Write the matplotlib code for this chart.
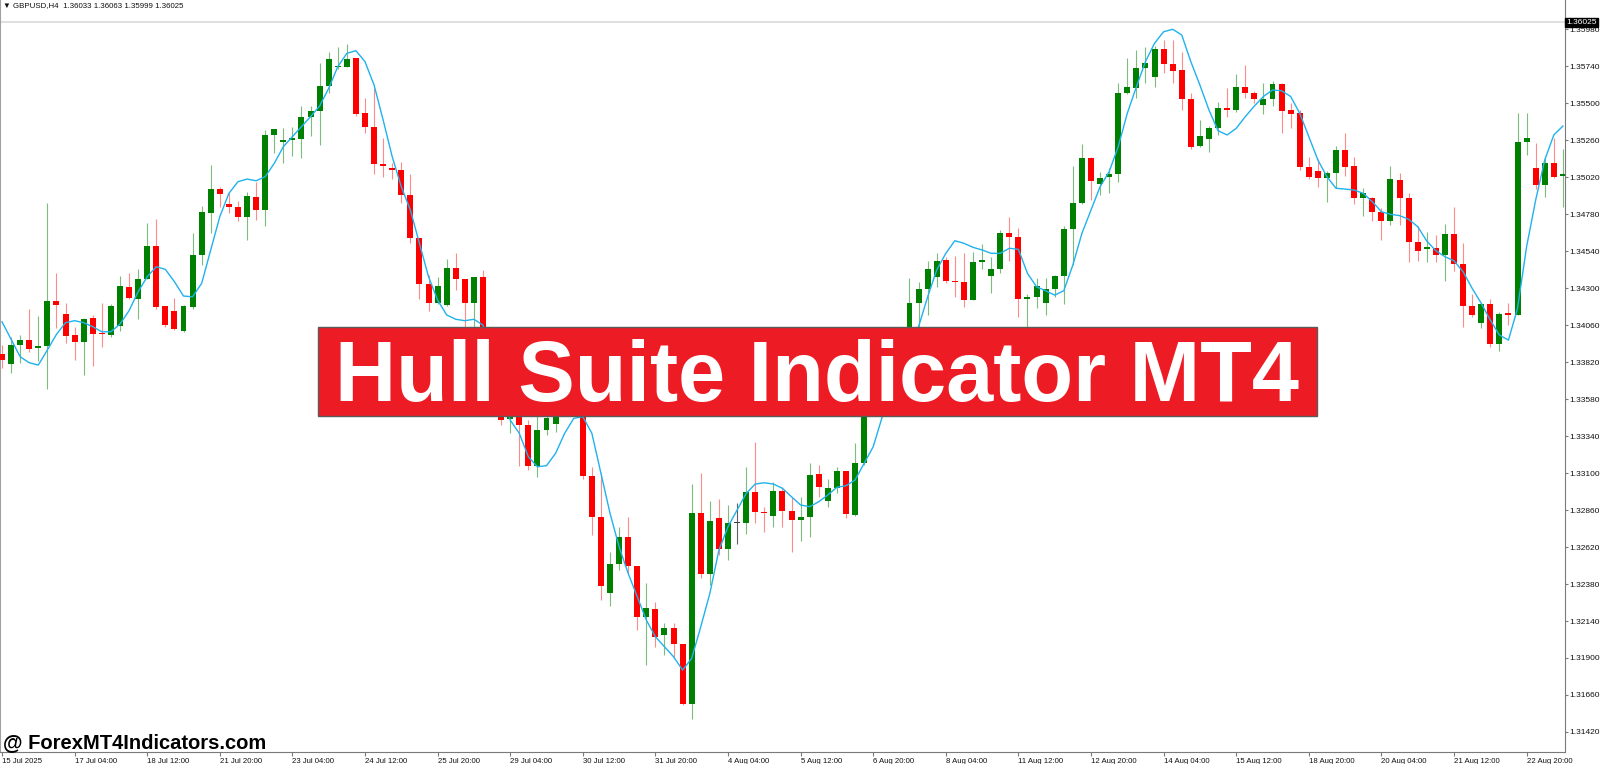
import numpy as np
import matplotlib
matplotlib.use("Agg")
import matplotlib.pyplot as plt
from matplotlib.patches import Rectangle
import matplotlib.transforms as mtransforms

plt.rcParams['font.family'] = ['Liberation Sans', 'DejaVu Sans']

# GBPUSD H4 candles
opens = [1.33873, 1.33806, 1.33933, 1.33961, 1.33910, 1.33924, 1.34217, 1.34134, 1.33996, 1.33952,
         1.34104, 1.34011, 1.33994, 1.34056, 1.34309, 1.34231, 1.34361, 1.34575, 1.34184, 1.34150,
         1.34024, 1.34178, 1.34515, 1.34790, 1.34943, 1.34844, 1.34827, 1.34764, 1.34893, 1.34807,
         1.35294, 1.35246, 1.35261, 1.35268, 1.35411, 1.35448, 1.35614, 1.35733, 1.35733, 1.35792,
         1.35435, 1.35348, 1.35106, 1.35080, 1.35067, 1.34906, 1.34623, 1.34327, 1.34202, 1.34191,
         1.34433, 1.34361, 1.34202, 1.34374, 1.33931, 1.33522, 1.33451, 1.33509, 1.33412, 1.33148,
         1.33379, 1.33416, 1.33509, 1.33587, 1.33626, 1.33083, 1.32817, 1.32319, 1.32508, 1.32683,
         1.32499, 1.32164, 1.32218, 1.32049, 1.32096, 1.31988, 1.31601, 1.32839, 1.32445, 1.32806,
         1.32607, 1.32774, 1.32774, 1.32975, 1.32849, 1.32823, 1.32985, 1.32854, 1.32795, 1.32813,
         1.33092, 1.32921, 1.33005, 1.33111, 1.32828, 1.33167, 1.33574, 1.33509, 1.33704, 1.33847,
         1.33996, 1.34205, 1.34292, 1.34374, 1.34483, 1.34348, 1.34340, 1.34223, 1.34472, 1.34381,
         1.34422, 1.34656, 1.34634, 1.34228, 1.34240, 1.34205, 1.34294, 1.34379, 1.34682, 1.34851,
         1.35147, 1.34976, 1.35019, 1.35041, 1.35564, 1.35601, 1.35727, 1.35668, 1.35852, 1.35753,
         1.35716, 1.35526, 1.35222, 1.35268, 1.35341, 1.35467, 1.35456, 1.35607, 1.35564, 1.35489,
         1.35526, 1.35623, 1.35456, 1.35435, 1.35088, 1.35060, 1.35017, 1.35045, 1.35197, 1.35093,
         1.34887, 1.34883, 1.34796, 1.34738, 1.35002, 1.34887, 1.34601, 1.34556, 1.34562, 1.34515,
         1.34651, 1.34457, 1.34184, 1.34072, 1.34197, 1.33935, 1.34137, 1.34126, 1.35246, 1.35082,
         1.34969, 1.35110, 1.35028]
highs = [1.33931, 1.33985, 1.33996, 1.34163, 1.34119, 1.34854, 1.34400, 1.34202, 1.34050, 1.34104,
         1.34126, 1.34202, 1.34197, 1.34379, 1.34400, 1.34422, 1.34721, 1.34747, 1.34184, 1.34236,
         1.34191, 1.34660, 1.34833, 1.35099, 1.34958, 1.34919, 1.34867, 1.34926, 1.34991, 1.35326,
         1.35335, 1.35341, 1.35344, 1.35482, 1.35482, 1.35759, 1.35833, 1.35863, 1.35882, 1.35792,
         1.35536, 1.35597, 1.35276, 1.35114, 1.35119, 1.35041, 1.34623, 1.34385, 1.34374, 1.34487,
         1.34526, 1.34361, 1.34374, 1.34418, 1.33963, 1.33574, 1.33561, 1.33542, 1.33444, 1.33509,
         1.33574, 1.33574, 1.33671, 1.33756, 1.33704, 1.33141, 1.33098, 1.32586, 1.32752, 1.32817,
         1.32499, 1.32388, 1.32265, 1.32129, 1.32129, 1.31988, 1.33029, 1.33098, 1.32921, 1.32930,
         1.32893, 1.32907, 1.33137, 1.33303, 1.32882, 1.33044, 1.33011, 1.32946, 1.32946, 1.33163,
         1.33152, 1.33059, 1.33137, 1.33111, 1.33293, 1.33606, 1.33639, 1.33736, 1.33899, 1.34028,
         1.34364, 1.34342, 1.34478, 1.34526, 1.34500, 1.34511, 1.34526, 1.34536, 1.34586, 1.34504,
         1.34677, 1.34764, 1.34688, 1.34262, 1.34364, 1.34364, 1.34385, 1.34703, 1.35093, 1.35233,
         1.35153, 1.35056, 1.35078, 1.35629, 1.35792, 1.35846, 1.35867, 1.35871, 1.35910, 1.35910,
         1.35833, 1.35564, 1.35391, 1.35352, 1.35508, 1.35597, 1.35690, 1.35748, 1.35581, 1.35629,
         1.35646, 1.35629, 1.35500, 1.35456, 1.35153, 1.35136, 1.35062, 1.35222, 1.35305, 1.35149,
         1.34952, 1.34890, 1.34818, 1.35093, 1.35045, 1.34919, 1.34701, 1.34662, 1.34645, 1.34714,
         1.34825, 1.34591, 1.34262, 1.34197, 1.34228, 1.34147, 1.34202, 1.35435, 1.35435, 1.35244,
         1.35147, 1.35272, 1.35201]
lows = [1.33782, 1.33749, 1.33816, 1.33884, 1.33827, 1.33643, 1.34039, 1.33946, 1.33834, 1.33736,
        1.33795, 1.33920, 1.33985, 1.34022, 1.34231, 1.34098, 1.34357, 1.34167, 1.34050, 1.34028,
        1.34017, 1.34163, 1.34450, 1.34660, 1.34825, 1.34786, 1.34738, 1.34612, 1.34742, 1.34703,
        1.35179, 1.35114, 1.35158, 1.35147, 1.35287, 1.35229, 1.35564, 1.35720, 1.35733, 1.35419,
        1.35305, 1.35041, 1.35019, 1.35008, 1.34854, 1.34591, 1.34228, 1.34154, 1.34197, 1.34184,
        1.34288, 1.34050, 1.34050, 1.33899, 1.33477, 1.33412, 1.33362, 1.33148, 1.33120, 1.33072,
        1.33347, 1.33368, 1.33477, 1.33555, 1.33061, 1.32698, 1.32276, 1.32237, 1.32471, 1.32449,
        1.32081, 1.31854, 1.31973, 1.31919, 1.31898, 1.31594, 1.31502, 1.32417, 1.32373, 1.32568,
        1.32536, 1.32639, 1.32704, 1.32774, 1.32719, 1.32748, 1.32748, 1.32589, 1.32661, 1.32683,
        1.32946, 1.32882, 1.32968, 1.32806, 1.32821, 1.33152, 1.33470, 1.33477, 1.33470, 1.33801,
        1.33963, 1.34050, 1.34126, 1.34309, 1.34335, 1.34240, 1.34176, 1.34223, 1.34422, 1.34270,
        1.34400, 1.34478, 1.34115, 1.34050, 1.34169, 1.34126, 1.34240, 1.34197, 1.34450, 1.34846,
        1.34872, 1.34904, 1.34919, 1.34991, 1.35560, 1.35532, 1.35629, 1.35604, 1.35698, 1.35629,
        1.35456, 1.35201, 1.35218, 1.35185, 1.35294, 1.35413, 1.35445, 1.35532, 1.35500, 1.35428,
        1.35482, 1.35305, 1.35341, 1.35067, 1.35006, 1.34954, 1.34861, 1.34948, 1.35028, 1.34846,
        1.34768, 1.34738, 1.34612, 1.34710, 1.34710, 1.34472, 1.34476, 1.34472, 1.34472, 1.34348,
        1.34413, 1.34050, 1.34111, 1.34039, 1.33920, 1.33894, 1.34061, 1.34126, 1.35164, 1.34941,
        1.34893, 1.35017, 1.34829]
closes = [1.33834, 1.33931, 1.33961, 1.33905, 1.33924, 1.34217, 1.34189, 1.33989, 1.33948, 1.34100,
          1.34004, 1.34000, 1.34184, 1.34314, 1.34236, 1.34361, 1.34573, 1.34180, 1.34061, 1.34033,
          1.34184, 1.34517, 1.34794, 1.34941, 1.34909, 1.34829, 1.34762, 1.34898, 1.34807, 1.35294,
          1.35331, 1.35261, 1.35272, 1.35411, 1.35450, 1.35614, 1.35787, 1.35742, 1.35789, 1.35432,
          1.35348, 1.35106, 1.35093, 1.35069, 1.34906, 1.34623, 1.34327, 1.34205, 1.34316, 1.34433,
          1.34357, 1.34202, 1.34374, 1.33931, 1.33542, 1.33444, 1.33509, 1.33412, 1.33148, 1.33379,
          1.33457, 1.33509, 1.33587, 1.33626, 1.33083, 1.32813, 1.32369, 1.32510, 1.32683, 1.32497,
          1.32164, 1.32222, 1.32038, 1.32096, 1.31988, 1.31601, 1.32839, 1.32445, 1.32791, 1.32607,
          1.32774, 1.32774, 1.32975, 1.32845, 1.32839, 1.32985, 1.32856, 1.32795, 1.32813, 1.33087,
          1.33008, 1.33005, 1.33111, 1.32834, 1.33167, 1.33574, 1.33509, 1.33704, 1.33847, 1.33996,
          1.34205, 1.34292, 1.34424, 1.34478, 1.34348, 1.34338, 1.34223, 1.34472, 1.34483, 1.34422,
          1.34656, 1.34634, 1.34228, 1.34240, 1.34314, 1.34292, 1.34379, 1.34682, 1.34851, 1.35147,
          1.34997, 1.35017, 1.35041, 1.35564, 1.35604, 1.35727, 1.35763, 1.35852, 1.35755, 1.35711,
          1.35526, 1.35218, 1.35289, 1.35337, 1.35471, 1.35456, 1.35607, 1.35564, 1.35527, 1.35526,
          1.35625, 1.35452, 1.35430, 1.35084, 1.35023, 1.35017, 1.35045, 1.35197, 1.35088, 1.34887,
          1.34915, 1.34796, 1.34738, 1.35008, 1.34883, 1.34599, 1.34541, 1.34565, 1.34515, 1.34651,
          1.34457, 1.34184, 1.34126, 1.34197, 1.33935, 1.34132, 1.34124, 1.35250, 1.35272, 1.34969,
          1.35110, 1.35023, 1.35041]
# Hull Suite line, one value per bar
hull = [1.34082, 1.33968, 1.33855, 1.33816, 1.33801, 1.33899, 1.34000, 1.34076, 1.34089, 1.34076,
        1.34050, 1.34017, 1.34017, 1.34067, 1.34154, 1.34277, 1.34374, 1.34439, 1.34422, 1.34342,
        1.34249, 1.34244, 1.34331, 1.34548, 1.34764, 1.34915, 1.34991, 1.35008, 1.34997, 1.35023,
        1.35110, 1.35218, 1.35283, 1.35348, 1.35413, 1.35482, 1.35597, 1.35737, 1.35824, 1.35841,
        1.35770, 1.35618, 1.35391, 1.35153, 1.34958, 1.34807, 1.34591, 1.34374, 1.34223, 1.34126,
        1.34098, 1.34089, 1.34098, 1.34061, 1.33866, 1.33639, 1.33444, 1.33358, 1.33206, 1.33141,
        1.33148, 1.33228, 1.33358, 1.33455, 1.33466, 1.33358, 1.33098, 1.32839, 1.32622, 1.32449,
        1.32297, 1.32146, 1.32038, 1.31973, 1.31908, 1.31822, 1.31898, 1.32103, 1.32319, 1.32601,
        1.32752, 1.32860, 1.32968, 1.33029, 1.33037, 1.33029, 1.33001, 1.32946, 1.32893, 1.32882,
        1.32914, 1.32958, 1.33008, 1.33018, 1.33055, 1.33163, 1.33271, 1.33466, 1.33606, 1.33769,
        1.33963, 1.34050, 1.34244, 1.34418, 1.34526, 1.34608, 1.34591, 1.34565, 1.34548, 1.34526,
        1.34526, 1.34559, 1.34552, 1.34396, 1.34309, 1.34283, 1.34255, 1.34283, 1.34450, 1.34656,
        1.34807, 1.34958, 1.35056, 1.35218, 1.35435, 1.35607, 1.35770, 1.35889, 1.35964, 1.35980,
        1.35943, 1.35770, 1.35618, 1.35456, 1.35322, 1.35294, 1.35337, 1.35413, 1.35482, 1.35544,
        1.35586, 1.35581, 1.35544, 1.35435, 1.35283, 1.35132, 1.35023, 1.34948, 1.34943, 1.34937,
        1.34915, 1.34861, 1.34796, 1.34779, 1.34771, 1.34747, 1.34699, 1.34606, 1.34543, 1.34504,
        1.34478, 1.34407, 1.34299, 1.34202, 1.34093, 1.33996, 1.33963, 1.34169, 1.34569, 1.34872,
        1.35132, 1.35294, 1.35352]

date_labels = ["15 Jul 2025", "17 Jul 04:00", "18 Jul 12:00", "21 Jul 20:00", "23 Jul 04:00",
               "24 Jul 12:00", "25 Jul 20:00", "29 Jul 04:00", "30 Jul 12:00", "31 Jul 20:00",
               "4 Aug 04:00", "5 Aug 12:00", "6 Aug 20:00", "8 Aug 04:00", "11 Aug 12:00",
               "12 Aug 20:00", "14 Aug 04:00", "15 Aug 12:00", "18 Aug 20:00", "20 Aug 04:00",
               "21 Aug 12:00", "22 Aug 20:00"]
date_bars = [0, 8, 16, 24, 32, 40, 48, 56, 64, 72, 80, 88, 96, 104, 112, 120, 128, 136,
             144, 152, 160, 168]
price_ticks = [1.31420, 1.31660, 1.31900, 1.32140, 1.32380, 1.32620, 1.32860, 1.33100,
               1.33340, 1.33580, 1.33820, 1.34060, 1.34300, 1.34540, 1.34780, 1.35020,
               1.35260, 1.35500, 1.35740, 1.35980]
bid_price = 1.36025
header = "\u25bc GBPUSD,H4  1.36033 1.36063 1.35999 1.36025"

W, H = 1600, 764
fig = plt.figure(figsize=(W / 100, H / 100), dpi=100)
fig.patch.set_facecolor('white')
ax = fig.add_axes([0, 12 / H, 1565 / W, 752 / H])

o = np.array(opens)
c = np.array(closes)
hi = np.array(highs)
lo = np.array(lows)
x = np.arange(len(o))

up = c > o
doji = np.abs(c - o) < 0.00001
body_col = np.where(up, '#008000', '#ff0000').astype(object)
wick_col = np.where(up, '#7cbc7c', '#ff8a8a').astype(object)
body_col[doji] = '#404040'
wick_col[doji] = '#606060'

# wicks then bodies
ax.vlines(x, lo, hi, colors=list(wick_col), linewidth=0.8, zorder=2)
height = np.maximum(np.abs(c - o), 0.00008)
bottom = np.minimum(o, c)
ax.bar(x, height, bottom=bottom, width=0.66, color=list(body_col), linewidth=0, zorder=3)

# hull suite line
ax.plot(x, hull, color='#1fb2ee', linewidth=1.0, zorder=4)

# bid line
ax.axhline(bid_price, color='#dcdcdc', linewidth=1.3, zorder=1)

ax.set_xlim(-2 / 9.075, 1563 / 9.075)
ax.set_ylim(1.31290, 1.36170)

# axes look
ax.spines['top'].set_visible(False)
ax.spines['left'].set_color('#a0a0a0')
ax.spines['left'].set_linewidth(1.5)
ax.spines['right'].set_color('#7a7a7a')
ax.spines['bottom'].set_color('#7a7a7a')

ax.yaxis.tick_right()
ax.set_yticks(price_ticks)
ax.set_yticklabels(['%.5f' % p for p in price_ticks])
ax.tick_params(axis='y', direction='out', length=2.2, width=0.8, color='#7a7a7a',
               labelsize=6, pad=1.0, labelcolor='#111111')

ax.set_xticks(date_bars)
ax.set_xticklabels(date_labels, ha='left')
ax.tick_params(axis='x', direction='out', length=3, width=0.8, color='#7a7a7a',
               labelsize=5.6, pad=1.0, labelcolor='#111111')

# current price tag on the axis
trans = mtransforms.blended_transform_factory(ax.transAxes, ax.transData)
ax.text(1.001, bid_price, '%.5f' % bid_price, transform=trans, ha='left', va='center',
        fontsize=6, color='white', zorder=6, clip_on=False,
        bbox=dict(boxstyle='square,pad=0.15', facecolor='black', edgecolor='black'))

# header
fig.text(3 / W, 1 - 5.5 / H, header, fontsize=5.7, ha='left', va='center', color='#111111')

# title banner
fig.add_artist(Rectangle((318 / W, 1 - 416 / H), 999 / W, 89.5 / H, transform=fig.transFigure,
                         facecolor='#ed1c24', edgecolor='#5a5a5a', linewidth=1.0, zorder=10))
fig.text(817 / W, 1 - 401.5 / H, 'Hull Suite Indicator MT4', fontsize=61, fontweight='bold',
         color='white', ha='center', va='baseline', zorder=11)

# watermark
fig.text(3 / W, 1 - 748 / H, '@ ForexMT4Indicators.com', fontsize=14.5, fontweight='bold',
         color='black', ha='left', va='baseline', zorder=11)

fig.savefig('out.png', dpi=100, facecolor='white')
